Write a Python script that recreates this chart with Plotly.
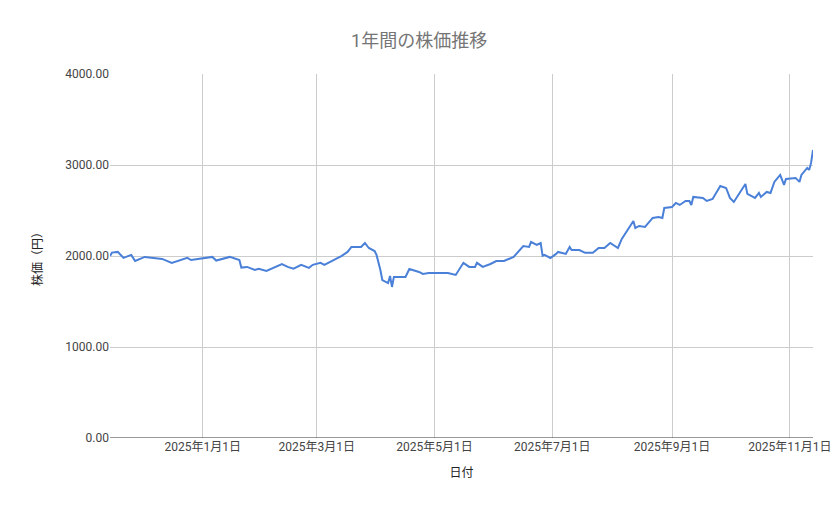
import plotly.graph_objects as go

dates = ["2024-11-14","2024-11-15","2024-11-18","2024-11-21","2024-11-25","2024-11-27","2024-12-02","2024-12-11","2024-12-16","2024-12-24","2024-12-26",
"2025-01-06","2025-01-08","2025-01-15","2025-01-20","2025-01-21","2025-01-24","2025-01-28","2025-01-30","2025-02-03","2025-02-11","2025-02-14","2025-02-17","2025-02-21","2025-02-25","2025-02-27",
"2025-03-03","2025-03-05","2025-03-14","2025-03-17","2025-03-19","2025-03-24","2025-03-26","2025-03-28","2025-03-31","2025-04-01","2025-04-03","2025-04-04","2025-04-07","2025-04-08","2025-04-09","2025-04-10","2025-04-14","2025-04-16","2025-04-18","2025-04-23","2025-04-25","2025-04-28",
"2025-05-08","2025-05-12","2025-05-16","2025-05-19","2025-05-20","2025-05-22","2025-05-23","2025-05-26","2025-05-30","2025-06-02","2025-06-06","2025-06-11","2025-06-16","2025-06-19","2025-06-20","2025-06-23","2025-06-25","2025-06-26","2025-06-27","2025-06-30",
"2025-07-03","2025-07-04","2025-07-08","2025-07-10","2025-07-11","2025-07-15","2025-07-18","2025-07-22","2025-07-25","2025-07-28","2025-07-31","2025-08-04","2025-08-06","2025-08-12","2025-08-13","2025-08-15","2025-08-18","2025-08-22","2025-08-25","2025-08-27","2025-08-28",
"2025-09-01","2025-09-03","2025-09-05","2025-09-08","2025-09-10","2025-09-11","2025-09-12","2025-09-17","2025-09-19","2025-09-22","2025-09-26","2025-09-29","2025-10-01","2025-10-03","2025-10-09","2025-10-10","2025-10-14","2025-10-16","2025-10-17","2025-10-20","2025-10-22","2025-10-24","2025-10-27","2025-10-29","2025-10-30",
"2025-11-04","2025-11-06","2025-11-07","2025-11-10","2025-11-11","2025-11-12","2025-11-13"]
prices = [2000,2037,2045,1980,2012,1945,1990,1968,1925,1980,1956,
1990,1950,1990,1956,1873,1880,1846,1860,1836,1912,1880,1860,1903,1870,1903,
1925,1903,2002,2045,2100,2100,2143,2088,2055,2012,1846,1736,1703,1780,1660,1770,1770,1770,1857,1825,1803,1814,
1814,1792,1925,1880,1880,1880,1925,1880,1912,1945,1945,1990,2110,2100,2154,2121,2143,2002,2012,1978,
2023,2045,2023,2100,2066,2066,2035,2035,2088,2088,2143,2088,2187,2385,2308,2330,2319,2418,2429,2418,2528,
2539,2583,2561,2605,2605,2561,2649,2638,2605,2627,2770,2748,2638,2594,2792,2682,2638,2693,2649,2704,2693,2814,2891,2781,2847,
2858,2814,2891,2968,2946,3023,3165]

tickvals = ["2025-01-01","2025-03-01","2025-05-01","2025-07-01","2025-09-01","2025-11-01"]
ticktext = ["2025年1月1日","2025年3月1日","2025年5月1日","2025年7月1日","2025年9月1日","2025年11月1日"]
yticks = [0,1000,2000,3000,4000]

fig = go.Figure(go.Scatter(x=dates, y=prices, mode="lines", line=dict(color="#4a80d8", width=2)))
fig.update_layout(
    width=839, height=519, margin=dict(l=102, r=34, t=66, b=89),
    paper_bgcolor="white", plot_bgcolor="white", showlegend=False,
    font=dict(family="Roboto, Noto Sans CJK JP", color="#444", size=12),
    title=dict(text="1年間の株価推移", x=0.49, xanchor="center", y=0.95, font=dict(size=18, color="#757575", family="Roboto, Noto Sans CJK JP")),
    xaxis=dict(range=["2024-11-14","2025-11-13"], tickvals=tickvals, ticktext=ticktext, showgrid=True, gridcolor="#cccccc",
               title=dict(text="日付", font=dict(size=12, color="#222")), showline=False, zeroline=False, ticks=""),
    yaxis=dict(range=[0,4000], tickvals=yticks, tickformat=".2f", showgrid=True, gridcolor="#cccccc",
               title=dict(text="株価（円）", font=dict(size=12, color="#222"), standoff=20), zeroline=False, ticks=""),
)
fig.add_shape(type="line", xref="paper", yref="y", x0=0, x1=1, y0=0, y1=0, line=dict(color="#333", width=1))
fig.write_html("out.html")
